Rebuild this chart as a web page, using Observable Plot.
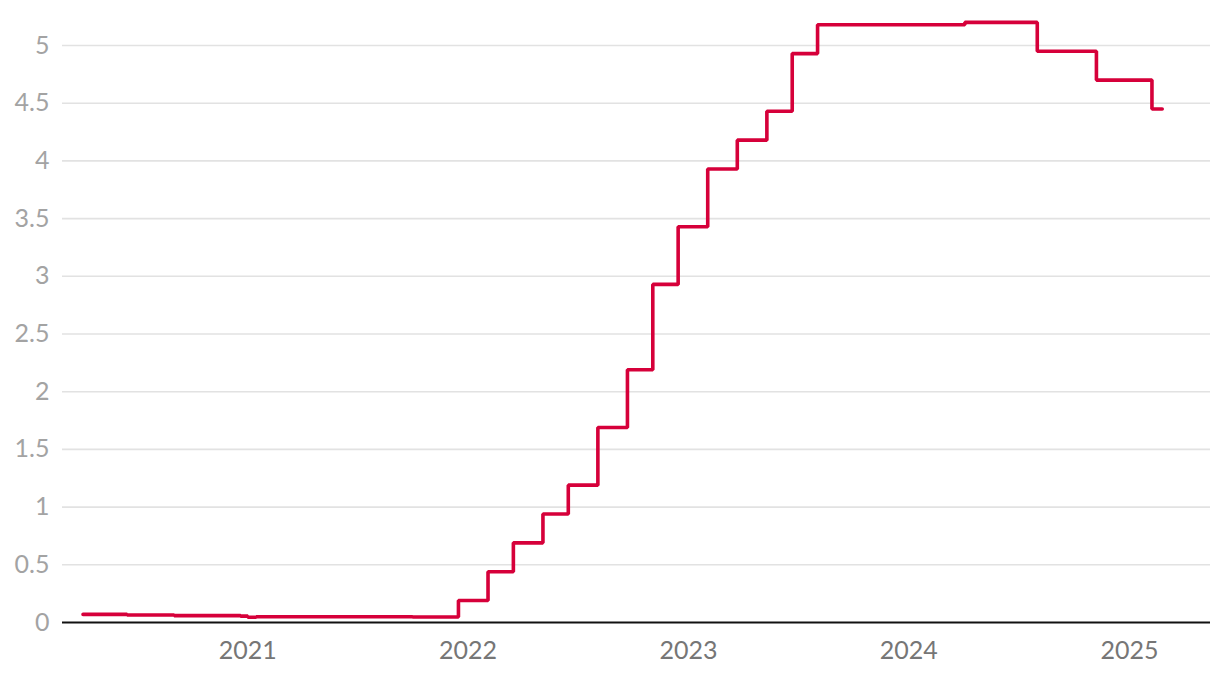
<!DOCTYPE html>
<html>
<head>
<meta charset="utf-8">
<script src="https://cdn.jsdelivr.net/npm/d3@7"></script>
<script src="https://cdn.jsdelivr.net/npm/@observablehq/plot@0.6"></script>
<style>
  html, body { margin: 0; padding: 0; background: #fff; }
  #chart svg { display: block; }
</style>
</head>
<body>
<div id="chart"></div>
<script>
// Step points (date of change, rate in %)
const dates = [
  "2020-04-03", "2020-06-15", "2020-09-01", "2020-12-20", "2021-01-01", "2021-01-15",
  "2021-06-01", "2021-10-01", "2021-12-16", "2022-02-03", "2022-03-17", "2022-05-05",
  "2022-06-16", "2022-08-04", "2022-09-22", "2022-11-03", "2022-12-15", "2023-02-02",
  "2023-03-23", "2023-05-11", "2023-06-22", "2023-08-03", "2024-04-03", "2024-08-01",
  "2024-11-07", "2025-02-07", "2025-02-24"
];
const values = [
  0.07, 0.065, 0.06, 0.055, 0.045, 0.05,
  0.05, 0.048, 0.19, 0.44, 0.69, 0.94,
  1.19, 1.69, 2.19, 2.93, 3.43, 3.93,
  4.18, 4.43, 4.93, 5.18, 5.20, 4.95,
  4.70, 4.45, 4.45
];
const yTicks = [0, 0.5, 1, 1.5, 2, 2.5, 3, 3.5, 4, 4.5, 5];
const xTickYears = [2021, 2022, 2023, 2024, 2025];

const data = dates.map((d, i) => ({date: new Date(d + "T00:00:00Z"), value: values[i]}));
const xTicks = xTickYears.map(y => new Date(Date.UTC(y, 0, 1)));

const chart = Plot.plot({
  width: 1220,
  height: 678,
  marginLeft: 62,
  marginRight: 10,
  marginTop: 45,
  marginBottom: 56,
  style: {fontFamily: "Lato, sans-serif", fontSize: "25px", background: "#fff"},
  x: {type: "utc", domain: [new Date("2020-02-29T00:00:00Z"), new Date("2025-05-15T00:00:00Z")]},
  y: {domain: [0, 5]},
  marks: [
    Plot.ruleY(yTicks.filter(d => d > 0), {stroke: "#e2e2e2", strokeWidth: 1.6}),
    Plot.axisY(yTicks, {tickSize: 0, tickPadding: 13, fill: "#a3a3a3", label: null, fontSize: 25,
      tickFormat: d => String(d)}),
    Plot.axisX(xTicks, {tickSize: 0, tickPadding: 19, fill: "#767676", label: null, fontSize: 25,
      tickFormat: d => String(d.getUTCFullYear())}),
    Plot.ruleY([0], {stroke: "#111", strokeWidth: 2}),
    Plot.line(data, {x: "date", y: "value", curve: "step-after", stroke: "#d6003a", strokeWidth: 3.6,
      strokeLinejoin: "miter"})
  ]
});
document.getElementById("chart").appendChild(chart);
</script>
</body>
</html>
